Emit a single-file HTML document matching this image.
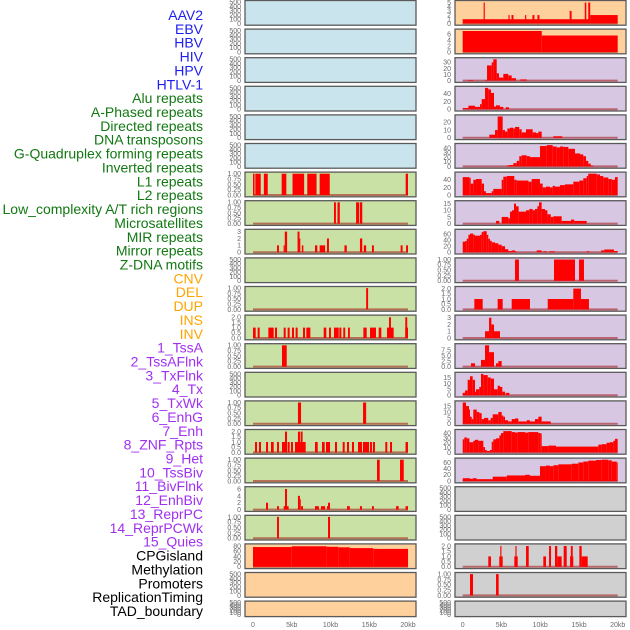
<!DOCTYPE html>
<html><head><meta charset="utf-8"><style>
html,body{margin:0;padding:0;background:#fff;}
svg{display:block;font-family:"Liberation Sans",sans-serif;}
</style></head><body>
<svg id="chart" width="630" height="630" viewBox="0 0 630 630" xmlns="http://www.w3.org/2000/svg"></svg>
<script>
// ---- data (segments: [startKb, endKb, value]) ----
const trackNames=["AAV2","EBV","HBV","HIV","HPV","HTLV-1","Alu repeats","A-Phased repeats","Directed repeats","DNA transposons","G-Quadruplex forming repeats","Inverted repeats","L1 repeats","L2 repeats","Low_complexity A/T rich regions","Microsatellites","MIR repeats","Mirror repeats","Z-DNA motifs","CNV","DEL","DUP","INS","INV","1_TssA","2_TssAFlnk","3_TxFlnk","4_Tx","5_TxWk","6_EnhG","7_Enh","8_ZNF_Rpts","9_Het","10_TssBiv","11_BivFlnk","12_EnhBiv","13_ReprPC","14_ReprPCWk","15_Quies","CPGisland","Methylation","Promoters","ReplicationTiming","TAD_boundary"];
const nameGroups=[0,0,0,0,0,0,1,1,1,1,1,1,1,1,1,1,1,1,1,2,2,2,2,2,3,3,3,3,3,3,3,3,3,3,3,3,3,3,3,4,4,4,4,4];
const xTickValues=[0,5,10,15,20];
const xTickLabels=["0","5kb","10kb","15kb","20kb"];

const T500=[0,100,200,300,400,500];
const T1=[0,0.25,0.5,0.75,1];
const T1L=["0.00","0.25","0.50","0.75","1.00"];
const T2=[0,0.5,1,1.5,2];
const T2L=["0.0","0.5","1.0","1.5","2.0"];
const T3=[0,1,2,3];
const T6=[0,2,4,6];
const T80=[0,20,40,60,80];
const T5=[0,1,2,3,4,5];
const T30=[0,10,20,30];
const T40=[0,20,40];
const T20=[0,10,20];
const T40b=[0,10,20,30,40];
const T15=[0,5,10,15];
const T60=[0,20,40,60];
const T75=[0,2.5,5,7.5];
const T75L=["0.0","2.5","5.0","7.5"];

const L6=[[0,0.2,1],[0.3,1.0,1],[1.4,1.9,1],[3.7,4.3,1],[5.1,6.6,1],[7.0,8.2,1],[8.6,9.9,1],[19.7,20,1]];
const L7=[[10.45,10.7,1],[10.9,11.2,1],[13.3,13.7,1],[13.8,14.1,1]];
const L8=[[3.1,3.35,1],[3.95,4.1,1],[4.1,4.4,3],[5.75,6.0,3],[6.0,6.1,2],[6.3,6.5,1],[8.0,8.3,1],[8.6,9.3,1],[9.55,9.8,2],[11.8,12.1,1],[13.8,14.1,2],[14.3,14.6,1],[15.35,15.6,1],[19.05,19.3,1],[19.75,20,1]];
const L10=[[14.6,14.85,1]];
const L11=[[0,0.35,1],[0.6,0.86,1],[1.98,2.67,1],[2.84,3.1,1],[3.96,4.22,1],[4.47,4.73,1],[5.03,5.29,1],[5.5,5.76,1],[6.45,6.71,1],[6.88,7.4,1],[9.12,9.46,1],[9.81,10.06,1],[10.45,11.06,1],[11.14,11.4,1],[11.65,11.9,1],[12.26,12.5,1],[14.24,14.67,1],[15.1,15.87,1],[16.22,16.56,1],[17.29,18.15,1],[17.55,17.8,2],[19.65,20,1],[19.65,19.9,2]];
const L12=[[3.74,4.35,1]];
const L14=[[5.8,6.2,1],[14.2,14.6,1]];
const L15=[[0.26,0.52,1],[0.77,1.03,1],[1.68,1.94,1],[2.32,2.67,1],[3.1,3.35,1],[3.74,4.26,1],[4.13,4.39,2],[4.47,4.73,1],[4.9,5.16,1],[5.42,6.8,1],[5.8,6.06,2],[6.15,6.4,2],[8.0,8.35,1],[8.9,9.25,1],[9.42,9.94,1],[10.58,10.84,1],[11.57,11.83,1],[12.13,12.39,1],[12.77,13.03,1],[13.55,14.06,1],[14.19,14.97,1],[15.1,15.35,1],[15.48,15.74,1],[17.07,17.33,1],[17.68,17.94,1],[19.68,20,1]];
const L16=[[16.0,16.35,1],[18.97,19.45,1]];
const L17=[[1.68,1.94,2],[3.1,3.35,1],[3.96,4.13,1],[4.13,4.39,6],[4.39,4.6,1],[5.8,6.06,4],[6.06,6.15,3],[6.2,6.45,1],[8.0,8.5,1],[8.77,9.3,1],[9.55,9.68,1],[9.68,9.94,2],[12.13,12.5,1],[13.8,14.06,1],[15.35,15.6,1],[18.45,18.8,1],[19.68,20,1]];
const L18=[[3.1,3.35,1],[9.68,9.94,1]];
const L19=[[0,5,76],[5,9.5,79],[9.5,11,77],[11,12.5,75],[12.5,15.5,72],[15.5,20,69]];

const R0=[[0,16.45,1],[2.7,2.85,5],[5.9,6.05,2],[6.3,6.55,2],[8.05,8.2,2],[9.0,9.25,2],[9.65,9.9,2],[13.8,14.05,3],[15.75,15.95,5],[16.2,16.45,5],[16.45,20,2]];
const R1=[[0,10.2,7],[10.2,20,5.5]];
const R2=[[0.72,1.37,1],[2.88,3.14,1],[3.14,3.74,25],[3.74,3.95,30],[3.95,4.39,37],[4.39,4.68,12],[4.68,5.24,5],[5.24,5.88,11],[5.88,6.32,8.5],[6.32,6.88,4],[7.43,8.26,2]];
const R3=[[0,0.73,3],[0.73,1.59,9],[1.59,2.23,6],[2.23,2.45,13],[2.45,2.88,26],[2.88,3.3,57],[3.3,3.65,51],[3.65,4.04,42],[4.04,4.3,7],[4.3,4.8,10],[4.8,5.24,6],[5.55,5.97,5]];
const R4=[[3.44,4.17,4],[4.17,4.51,10],[4.51,5.16,28],[5.16,5.46,10],[5.46,5.76,8],[5.76,6.1,12],[6.1,6.53,13],[6.53,6.75,12],[6.75,7.3,14],[7.3,7.61,11],[7.61,8.17,7],[8.17,9.03,11],[9.03,9.46,7],[9.46,9.76,6],[9.76,10.19,8],[11.69,12.85,2]];
const R5=[[5.68,6.02,2],[6.02,6.53,3],[6.53,6.97,7],[6.97,7.3,12],[7.3,7.61,22],[7.61,8.26,24],[8.26,8.68,22],[8.68,9.97,20],[9.97,10.84,44],[10.84,11.61,46],[11.61,12.13,43],[12.13,12.55,41],[12.55,12.98,43],[12.98,13.63,42],[13.63,14.49,38],[14.49,15.14,28],[15.14,15.56,26],[15.56,15.91,22],[15.91,16.2,12],[16.2,16.52,6],[16.52,16.85,2]];
const R6=[[0,0.86,47],[0.86,1.03,45],[1.03,1.37,30],[1.37,1.72,40],[1.72,2.45,42],[2.45,2.75,30],[2.75,3.0,10],[3.0,3.74,5],[3.74,3.95,10],[3.95,5.03,16],[5.03,5.24,40],[5.24,5.68,48],[5.68,6.66,50],[6.66,6.97,40],[6.97,8.47,38],[8.47,8.9,35],[8.9,9.97,42],[9.97,10.32,30],[10.32,10.74,20],[10.74,11.26,22],[11.26,11.61,20],[11.61,11.9,24],[11.9,12.55,22],[12.55,13.19,26],[13.19,14.27,28],[14.27,15.05,35],[15.05,15.56,38],[15.56,16.0,44],[16.0,16.2,50],[16.2,17.29,56],[17.29,17.72,54],[17.72,18.14,50],[18.14,18.79,46],[18.79,19.23,42],[19.23,19.65,40],[19.65,20,47]];
const R7=[[4.3,4.73,2],[5.03,5.88,5],[5.88,6.1,4],[6.1,6.36,9],[6.36,6.62,10],[6.62,6.88,15],[6.88,7.22,13],[7.22,8.17,9],[8.17,8.6,10],[8.6,9.03,11],[9.03,9.33,10],[9.33,9.63,11],[9.63,9.85,13],[9.85,10.19,16],[10.19,10.62,11],[10.62,10.93,10],[10.93,11.36,7],[11.36,11.69,5],[11.69,12.77,5.5],[12.77,13.97,2],[13.97,14.4,3],[14.4,16.0,2]];
const R8=[[0,0.3,35],[0.3,0.52,37],[0.52,0.73,45],[0.73,0.94,58],[0.94,1.37,62],[1.37,1.59,58],[1.59,2.23,55],[2.23,2.45,58],[2.45,2.66,67],[2.66,3.1,70],[3.1,3.3,58],[3.3,3.52,45],[3.52,3.74,38],[3.74,4.17,33],[4.17,4.6,30],[4.6,5.03,25],[5.03,5.46,20],[5.46,5.88,10],[5.88,6.32,4],[6.32,6.75,6],[6.75,6.97,3],[9.55,10.19,6],[10.4,10.84,3],[11.18,11.9,3],[16.0,16.34,3],[17.85,18.27,6],[18.27,19.52,9],[19.52,20,4]];
const R9=[[6.75,7.26,1],[11.78,14.49,1],[15.01,15.65,1]];
const R10=[[1.5,2.58,1],[4.51,5.16,1],[6.32,8.68,1],[10.97,14.27,1],[14.27,15.26,2],[15.26,16.29,1]];
const R11=[[2.88,3.4,1],[3.4,3.7,3],[3.7,4.04,2],[4.04,4.81,1]];
const R12=[[1.07,1.59,1.5],[2.36,2.88,3],[2.88,3.4,10],[3.4,4.04,6.5],[4.3,4.6,1.5],[4.6,5.03,2.5]];
const R13=[[0,0.3,2],[0.3,0.64,4],[0.64,0.94,13],[0.94,1.29,16],[1.29,1.59,13],[1.59,1.72,3],[1.72,2.14,5],[2.14,2.36,7],[2.36,2.66,18],[2.66,3.23,17],[3.23,3.61,15],[3.61,4.04,14],[4.04,4.51,5],[4.51,4.81,8],[4.81,5.11,7],[5.11,5.46,3],[5.55,6.02,2]];
const R14=[[0,0.43,18],[0.43,0.81,15],[0.81,0.94,12],[0.94,1.16,6],[1.16,1.37,4],[1.37,1.81,12],[1.81,2.14,10],[2.14,2.45,9],[2.45,2.75,4],[2.75,3.3,5],[3.3,3.61,3],[3.61,3.87,5],[3.87,4.6,8],[4.6,5.03,10],[5.03,5.24,7],[5.24,5.46,6],[5.46,5.88,3],[5.88,6.32,2],[6.32,6.75,4],[6.75,7.18,4.5],[7.18,8.26,2],[8.26,8.68,3],[8.68,9.33,2],[9.33,9.76,4],[9.76,10.19,6],[10.19,11.36,2]];
const R15=[[0,0.21,27],[0.21,0.52,31],[0.52,0.86,29],[0.86,1.37,21],[1.37,1.59,24],[1.59,2.01,26],[2.01,2.66,24],[2.66,2.88,11],[2.88,3.1,5],[3.1,3.52,3],[3.52,3.74,5],[3.74,3.95,22],[3.95,4.3,27],[4.3,4.73,29],[4.73,4.94,35],[4.94,5.24,40],[5.24,6.32,44],[6.32,6.75,42],[6.75,7.09,41],[7.09,8.04,42],[8.04,8.47,41],[8.47,9.76,42],[9.76,10.06,40],[10.06,10.19,39],[10.19,11.05,13],[11.05,12.04,14],[12.04,17.5,12],[17.5,17.93,16],[17.93,18.58,17],[18.58,19.0,20],[19.0,19.44,21],[19.44,19.65,24],[19.65,20,28]];
const R16=[[0,0.94,9],[0.94,1.29,7],[1.29,1.81,9],[1.81,3.87,6],[3.87,5.68,14],[5.68,8.04,18],[8.04,8.68,20],[8.68,9.97,17],[9.97,10.74,48],[10.74,11.26,50],[11.26,11.69,48],[11.69,12.34,51],[12.34,14.06,54],[14.06,14.92,56],[14.92,15.56,60],[15.56,16.2,63],[16.2,17.2,66],[17.2,17.93,68],[17.93,18.79,69],[18.79,19.23,67],[19.23,19.87,63],[19.87,20,60]];
const R19=[[3.3,3.65,1],[4.72,5.16,1],[4.85,5.0,2],[6.66,7.1,1],[6.8,6.95,2],[8.17,8.52,2],[10.4,10.75,1],[11.14,11.4,2],[11.91,12.2,2],[12.2,12.77,1],[13.03,13.42,2],[13.85,14.27,1],[13.95,14.2,2],[15.05,15.35,2],[15.35,16.13,1]];
const R20=[[0.94,1.33,1],[4.3,4.64,1]];

// ---- styling/layout ----
const BG={blue:"#c9e4ec",green:"#c9e1a5",orange:"#fed09c",purple:"#d7c7e3",grey:"#d0d0d0"};
const NAMECOL=["#1e1ef0","#127812","#ffa500","#a030f0","#000000"];
function P(bg,ticks,ymax,segs,labels){return {bg:bg,ticks:ticks,ymax:ymax,segs:segs||[],labels:labels};}
const leftCol=[P("blue",T500,500),P("blue",T500,500),P("blue",T500,500),P("blue",T500,500),P("blue",T500,500),P("blue",T500,500),
 P("green",T1,1,L6,T1L),P("green",T1,1,L7,T1L),P("green",T3,3.1,L8),P("green",T500,500),P("green",T1,1,L10,T1L),
 P("green",T2,2.05,L11,T2L),P("green",T1,1,L12,T1L),P("green",T500,500),P("green",T1,1,L14,T1L),P("green",T2,2.05,L15,T2L),
 P("green",T1,1,L16,T1L),P("green",T6,6.2,L17),P("green",T1,1,L18,T1L),P("orange",T80,82,L19),P("orange",T500,500),P("orange",T500,500)];
const rightCol=[P("orange",T5,5.1,R0),P("orange",T6,7.1,R1),P("purple",T30,35,R2),P("purple",T40,55,R3),P("purple",T20,27.5,R4),
 P("purple",T40b,46,R5),P("purple",T40,56,R6),P("purple",T15,16,R7),P("purple",T60,71,R8),P("purple",T1,1,R9,T1L),
 P("purple",T2,2.05,R10,T2L),P("purple",T3,3.15,R11),P("purple",T75,9.6,R12,T75L),P("purple",T15,18,R13),P("purple",T15,18,R14),
 P("purple",T40b,44,R15),P("purple",T60,69,R16),P("grey",T500,500),P("grey",T500,500),P("grey",T2,2.05,R19,T2L),
 P("grey",T1,1,R20,T1L),P("grey",T500,500)];

const NS="http://www.w3.org/2000/svg";
const svg=document.getElementById("chart");
function mk(tag,attrs,parent){const e=document.createElementNS(NS,tag);for(const k in attrs)e.setAttribute(k,attrs[k]);(parent||svg).appendChild(e);return e;}

// names
trackNames.forEach((n,i)=>{
  const t=mk("text",{x:203,y:(20+13.86*i).toFixed(1),"text-anchor":"end","font-size":"14",fill:NAMECOL[nameGroups[i]]});
  t.textContent=n;
  
  
});

const cols=[{px0:245,px1:416,x0:253,tickX:241,panels:leftCol,name:'left'},{px0:455,px1:626,x0:462.7,tickX:451,panels:rightCol,name:'right'}];
const KB=7.75;
cols.forEach(c=>{
  const xs=kb=>c.x0+kb*KB;
  c.panels.forEach((p,i)=>{
    const top=0.5+28.6*i;
    const h=(i===21)?15.5:24.7;
    const bot=top+h;
    const yb=bot-1.8, yt=top+1.6;
    const ys=v=>yb-(Math.min(v,p.ymax)/p.ymax)*(yb-yt);
    const g=mk("g",{});
    
    
    const bg=mk("rect",{x:c.px0,y:top,width:c.px1-c.px0,height:h,fill:BG[p.bg]},g);
    
    
    if(p.segs.length){
      const bl=mk("line",{x1:xs(0),x2:xs(20),y1:ys(0),y2:ys(0),stroke:"rgba(160,20,20,0.55)","stroke-width":"2"},g);
      
      
    }
    p.segs.forEach(s=>{
      const x1=xs(s[0]),x2=xs(s[1]),y=ys(s[2]);
      const r=mk("rect",{x:x1.toFixed(2),y:y.toFixed(2),width:Math.max(0.8,x2-x1).toFixed(2),height:(ys(0)-y).toFixed(2),fill:"#ff0000"},g);
      
      
    });
    const br=mk("rect",{x:c.px0,y:top,width:c.px1-c.px0,height:h,fill:"none",stroke:"#5a5a5a","stroke-width":"1.3"},g);
    
    
    p.ticks.forEach((t,k)=>{
      const tx=mk("text",{x:c.tickX,y:(ys(t)+2.4).toFixed(1),"text-anchor":"end","font-size":"7",fill:"#6a6a6a"},g);
      tx.textContent=p.labels?p.labels[k]:String(t);
      
      
    });
  });
  xTickValues.forEach((v,k)=>{
    const t=mk("text",{x:xs(v).toFixed(1),y:627,"text-anchor":"middle","font-size":"7",fill:"#6a6a6a"});
    t.textContent=xTickLabels[k];
    
    
  });
});
</script>
</body></html>
